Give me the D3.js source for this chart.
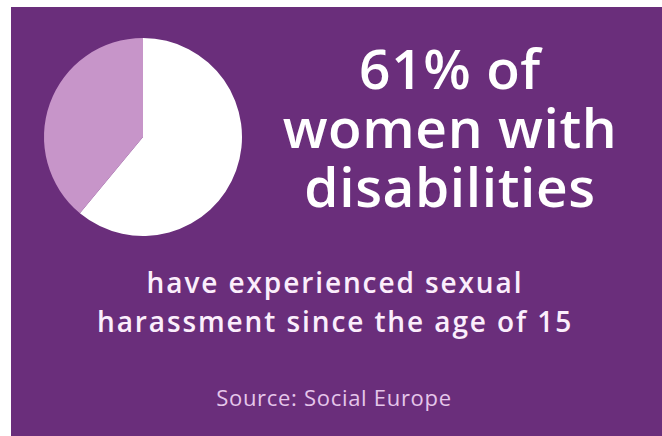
<!DOCTYPE html>
<html>
<head>
<meta charset="utf-8">
<script src="https://cdn.jsdelivr.net/npm/d3@7"></script>
<style>
  body { margin: 0; background: #fff; }
  svg { display: block; }
</style>
</head>
<body>
<div id="chart"></div>
<script>
// data for the pie and the texts
var sliceNames = ["experienced", "not experienced"];
var sliceValues = [61, 39];
var headline = ["61% of", "women with", "disabilities"];
var subline = ["have experienced sexual", "harassment since the age of 15"];
var source = "Source: Social Europe";

var width = 662, height = 436;

var svg = d3.select("#chart").append("svg")
    .attr("width", width)
    .attr("height", height);

// purple card
svg.append("rect")
    .attr("x", 11).attr("y", 7)
    .attr("width", width - 11).attr("height", height - 7)
    .attr("fill", "#6a2e7b");

// pie, white slice starts at 12 o'clock
var color = d3.scaleOrdinal().domain(sliceNames).range(["#ffffff", "#c795c9"]);
var pie = d3.pie().value(function(d, i){ return sliceValues[i]; }).sort(null);
var arc = d3.arc().innerRadius(0).outerRadius(99);

var g = svg.append("g").attr("transform", "translate(143,137)");
g.selectAll("path")
    .data(pie(sliceNames))
    .enter().append("path")
    .attr("d", arc)
    .attr("fill", function(d){ return color(d.data); });

// big headline
svg.append("g").selectAll("text")
    .data(headline)
    .enter().append("text")
    .attr("x", 450)
    .attr("y", function(d, i){ return 89 + i * 59; })
    .attr("text-anchor", "middle")
    .style("font-family", "'Open Sans', sans-serif")
    .style("font-weight", 600)
    .style("font-size", "55px")
    .style("letter-spacing", "0.6px")
    .style("fill", "#fff")
    .text(function(d){ return d; });

// sub text
svg.append("g").selectAll("text")
    .data(subline)
    .enter().append("text")
    .attr("x", 335)
    .attr("y", function(d, i){ return 293 + i * 39; })
    .attr("text-anchor", "middle")
    .style("font-family", "'Open Sans', sans-serif")
    .style("font-weight", 600)
    .style("font-size", "28px")
    .style("letter-spacing", "1.9px")
    .style("fill", "#fbeefc")
    .text(function(d){ return d; });

svg.append("text")
    .attr("x", 334)
    .attr("y", 406)
    .attr("text-anchor", "middle")
    .style("font-family", "'Open Sans', sans-serif")
    .style("font-weight", 500)
    .style("font-size", "22px")
    .style("letter-spacing", "0.7px")
    .style("fill", "#e5c6ea")
    .text(source);
</script>
</body>
</html>
